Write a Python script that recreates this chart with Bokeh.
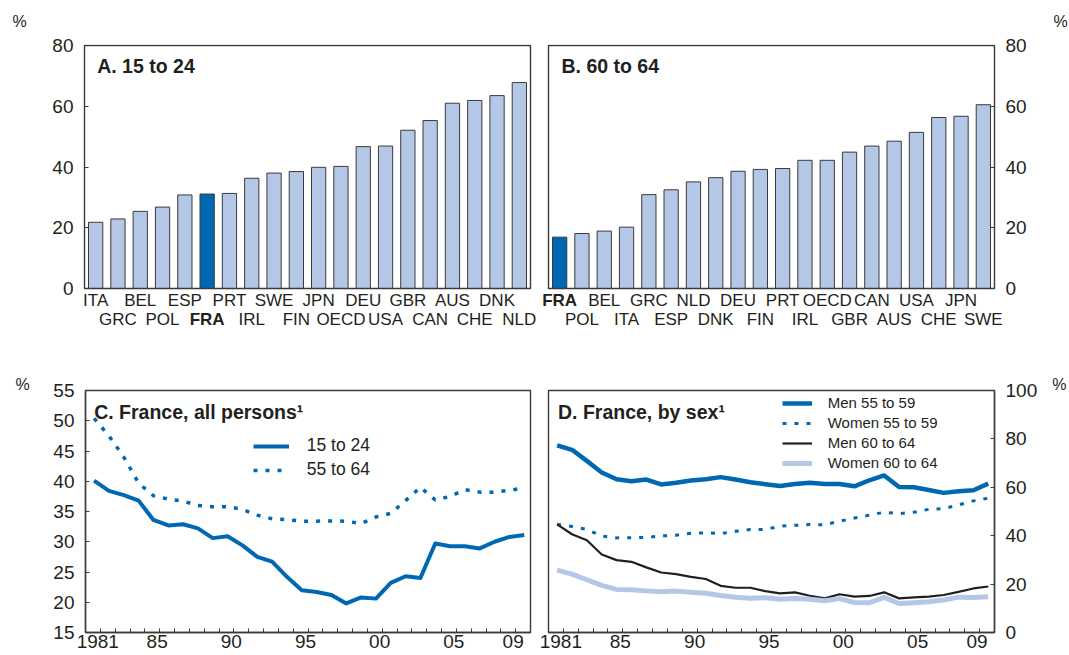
from bokeh.plotting import figure
from bokeh.models import (FactorRange, Range1d, ColumnDataSource, LabelSet, Label, Title,
                          FixedTicker, Legend, LegendItem, CustomJSTickFormatter,
                          BoxAnnotation, LinearAxis)
from bokeh.layouts import column, row
from bokeh.core.properties import value
from bokeh.embed import file_html
from bokeh.resources import INLINE

# ---------------- data ----------------
a_countries = ["ITA", "GRC", "BEL", "POL", "ESP", "FRA", "PRT", "IRL", "SWE", "FIN",
               "JPN", "OECD", "DEU", "USA", "GBR", "CAN", "AUS", "CHE", "DNK", "NLD"]
a_values = [21.8, 22.9, 25.4, 26.8, 30.8, 31.1, 31.3, 36.3, 38.0, 38.5,
            39.9, 40.2, 46.7, 46.9, 52.1, 55.3, 61.0, 61.9, 63.5, 67.8]

b_countries = ["FRA", "POL", "BEL", "ITA", "GRC", "ESP", "NLD", "DNK", "DEU", "FIN",
               "PRT", "IRL", "OECD", "GBR", "CAN", "AUS", "USA", "CHE", "JPN", "SWE"]
b_values = [16.9, 18.1, 18.9, 20.2, 30.9, 32.5, 35.1, 36.5, 38.6, 39.2,
            39.5, 42.2, 42.2, 44.9, 46.9, 48.5, 51.4, 56.3, 56.7, 60.5]

years = list(range(1981, 2011))
c_15_24 = [40.1, 38.4, 37.7, 36.8, 33.6, 32.7, 32.9, 32.2, 30.6, 30.9,
           29.4, 27.5, 26.7, 24.2, 22.0, 21.7, 21.2, 19.8, 20.8, 20.6,
           23.2, 24.3, 24.0, 29.7, 29.25, 29.25, 28.9, 30.0, 30.8, 31.1]
c_55_64 = [50.4, 47.5, 44.0, 39.7, 37.6, 37.05, 36.7, 36.0, 35.8, 35.8,
           35.35, 34.4, 33.8, 33.65, 33.4, 33.4, 33.45, 33.4, 33.0, 34.1,
           34.7, 36.8, 39.0, 36.9, 37.5, 38.6, 38.2, 38.2, 38.5, 38.9]

d_men_55_59 = [77.3, 75.5, 70.9, 66.1, 63.3, 62.5, 63.2, 61.2, 61.9, 62.8,
               63.3, 64.2, 63.2, 62.1, 61.3, 60.5, 61.4, 61.9, 61.4, 61.4,
               60.4, 62.9, 64.9, 60.1, 60.0, 58.9, 57.7, 58.4, 58.8, 61.5]
d_women_55_59 = [44.7, 43.8, 42.6, 39.9, 39.1, 39.2, 39.3, 39.9, 40.2, 41.0,
                 41.2, 40.9, 41.8, 42.6, 42.6, 43.9, 44.3, 44.6, 44.5, 46.0,
                 47.3, 48.5, 49.7, 49.1, 49.7, 50.9, 51.2, 52.7, 54.4, 55.5]
d_men_60_64 = [44.7, 40.6, 38.1, 32.2, 29.9, 29.2, 26.9, 24.8, 24.1, 23.0,
               22.1, 19.3, 18.5, 18.5, 17.1, 16.2, 16.6, 15.2, 14.1, 15.8,
               14.8, 15.1, 16.6, 14.1, 14.5, 14.8, 15.5, 16.8, 18.2, 19.0]
d_women_60_64 = [25.8, 24.1, 21.8, 19.5, 17.8, 17.7, 17.2, 16.8, 17.1, 16.6,
                 16.2, 15.3, 14.6, 14.2, 14.4, 13.7, 14.0, 13.7, 13.1, 14.0,
                 12.4, 12.3, 14.5, 12.0, 12.3, 12.7, 13.4, 14.6, 14.5, 14.8]

year_tick_years = [1981, 1985, 1990, 1995, 2000, 2005, 2009]
year_tick_labels = ["1981", "85", "90", "95", "00", "05", "09"]

bar_ticks = [0, 20, 40, 60, 80]
c_ticks = [15, 20, 25, 30, 35, 40, 45, 50, 55]
d_ticks = [0, 20, 40, 60, 80, 100]

# ---------------- style ----------------
FONT = "Liberation Sans"
TEXT = "#231f20"
LIGHT = "#b4c7e7"
BLUE = "#0068b3"
BLACK = "#231f20"
EDGE = "#3a3a3a"
TICK_SHIFT = 0.42      # year tick marks sit this far right of the data points
LABEL_SHIFT = 0.25     # year labels sit slightly left of the tick marks
X0, X1 = 1981 - (1 - TICK_SHIFT), 2010 + TICK_SHIFT

W_LEFT, W_RIGHT = 539, 529          # column widths (page px)
H_TOP, H_BARS, H_LINES = 35, 333, 286
CAT_ROWS = (305.5, 324.5)           # baselines of the two rows of country codes (page px)

# box geometry on the page: (left, right, top, bottom, xstart, xend, ystart, yend)
PA = (84, 530, 45, 288, 0, 20, 0, 80)
PB = (548, 994, 45, 288, 0, 20, 0, 80)
PC = (85, 530, 390, 632, X0, X1, 15, 55)
PD = (548, 994, 390, 632, X0, X1, 0, 100)
BAR_PX = 446 / 20                    # pixels per category slot
BAR_YPX = 243 / 80                   # pixels per percentage point
SIDE = 9                             # free pixels left and right of the bar boxes
FRAME_BOTTOM = 366                   # bar frames reach down over the country codes


def conv(P, px, py):
    fx0, fx1, fy0, fy1, xs, xe, ys, ye = P
    return (xs + (px - fx0) * (xe - xs) / (fx1 - fx0),
            ys + (fy1 - py) * (ye - ys) / (fy1 - fy0))


def make_fig(w, h, mbl, mbr, mbt, mbb, x_range, y_range, yloc, xloc):
    p = figure(width=w, height=h, x_range=x_range, y_range=y_range, title=None,
               output_backend="svg", toolbar_location=None,
               y_axis_location=yloc, x_axis_location=xloc,
               min_border_left=mbl, min_border_right=mbr,
               min_border_top=mbt, min_border_bottom=mbb,
               background_fill_color="white", border_fill_color="white")
    p.outline_line_color = EDGE
    p.outline_line_width = 1.4
    p.outline_line_alpha = 1.0
    p.grid.visible = False
    return p


def style_axis(ax, ticker):
    ax.ticker = ticker
    ax.major_tick_in = 4
    ax.major_tick_out = 0
    ax.minor_tick_in = 4
    ax.minor_tick_out = 0
    ax.minor_tick_line_color = None
    ax.major_tick_line_color = EDGE
    ax.major_tick_line_width = 1
    ax.axis_line_color = EDGE
    ax.axis_line_width = 1.4
    ax.major_label_text_font = FONT
    ax.major_label_text_font_size = "19px"
    ax.major_label_text_color = TEXT
    ax.major_label_standoff = 11


def add_text(p, P, px, py, text, size, bold=False, align="left", baseline="alphabetic"):
    x, y = conv(P, px, py)
    p.add_layout(Label(x=x, y=y, text=text, text_font=FONT, text_font_size=size,
                       text_font_style="bold" if bold else "normal", text_color=TEXT,
                       text_align=align, text_baseline=baseline))


def bar_panel(cats, vals, title, yloc, w, mbl, mbr, P, title_px):
    top_border = 45 - H_TOP - 1
    p = make_fig(w, H_BARS, mbl, mbr, top_border, H_TOP + H_BARS - FRAME_BOTTOM,
                 FactorRange(factors=cats, range_padding=SIDE / BAR_PX,
                             range_padding_units="absolute"),
                 Range1d(-(FRAME_BOTTOM - 288) / BAR_YPX, 80 + 1 / BAR_YPX), yloc, None)
    p.outline_line_color = None
    colors = [BLUE if c == "FRA" else LIGHT for c in cats]
    src = ColumnDataSource(dict(cat=cats, val=vals, color=colors))
    p.vbar(x="cat", top="val", width=0.64, fill_color="color", line_color=EDGE,
           line_width=1, source=src)
    p.add_layout(BoxAnnotation(left=0, right=len(cats), bottom=0, top=80,
                               fill_color=None, fill_alpha=0, line_color=EDGE,
                               line_width=1.4, line_alpha=1.0))
    # value labels sit at the frame edge, just outside the box
    style_axis(p.yaxis, FixedTicker(ticks=bar_ticks))
    p.yaxis.axis_line_color = None
    p.yaxis.major_tick_line_color = None
    p.yaxis.major_label_standoff = 2
    # tick marks on the box edge itself
    p.add_layout(LinearAxis(fixed_location=0 if yloc == "left" else len(cats),
                            ticker=FixedTicker(ticks=bar_ticks),
                            major_tick_in=4, major_tick_out=0, major_tick_line_color=EDGE,
                            minor_tick_line_color=None, axis_line_color=None,
                            major_label_text_color=None), yloc)
    # country codes in two rows below the box
    y_rows = [conv(P, 0, r)[1] for r in CAT_ROWS]
    lsrc = ColumnDataSource(dict(
        x=[i + 0.5 for i in range(len(cats))],
        y=[y_rows[i % 2] for i in range(len(cats))],
        text=cats,
        style=["bold" if c == "FRA" else "normal" for c in cats]))
    p.add_layout(LabelSet(x="x", y="y", text="text", source=lsrc,
                          text_font=value(FONT), text_font_size=value("17px"),
                          text_font_style="style", text_color=TEXT,
                          text_align="center", text_baseline="alphabetic"))
    add_text(p, P, title_px[0], title_px[1], title, "19.5px", bold=True)
    return p


def line_panel(yr, ticks, yloc, w, mbl, mbr, P, title, title_px, pct_align, pct_off):
    p = make_fig(w, H_LINES, mbl, mbr, 22, H_LINES - 22 - 242,
                 Range1d(X0, X1), Range1d(*yr), yloc, "below")
    style_axis(p.yaxis, FixedTicker(ticks=ticks))
    xt = FixedTicker(ticks=[y + LABEL_SHIFT for y in year_tick_years],
                     minor_ticks=[y + TICK_SHIFT for y in years[:-1]])
    style_axis(p.xaxis, xt)
    p.xaxis.major_tick_line_color = None
    p.xaxis.minor_tick_line_color = EDGE
    p.xaxis.minor_tick_line_width = 1
    p.xaxis.major_label_standoff = 2
    p.xaxis.formatter = CustomJSTickFormatter(args=dict(labels=year_tick_labels),
                                              code="return labels[index];")
    add_text(p, P, title_px[0], title_px[1], title, "19.5px", bold=True)
    p.add_layout(Title(text="%", align=pct_align, offset=pct_off, standoff=-4,
                       text_font=FONT, text_font_size="16px", text_font_style="normal",
                       text_color=TEXT, vertical_align="bottom"), "above")
    return p


# top strip carrying the "%" unit signs of panels A and B
ptop = make_fig(W_LEFT + W_RIGHT, H_TOP, 0, 0, 0, 0, Range1d(0, W_LEFT + W_RIGHT),
                Range1d(H_TOP, 0), None, None)
ptop.outline_line_color = None
for px in (19, 1060):
    ptop.add_layout(Label(x=px, y=21, text="%", text_font=FONT, text_font_size="16px",
                          text_color=TEXT, text_align="center", text_baseline="middle"))

pa = bar_panel(a_countries, a_values, "A. 15 to 24", "left", W_LEFT,
               84 - SIDE, W_LEFT - (84 - SIDE) - (446 + 2 * SIDE), PA, (96.7, 65))
pb = bar_panel(b_countries, b_values, "B. 60 to 64", "right", W_RIGHT,
               548 - SIDE - W_LEFT, W_RIGHT - (548 - SIDE - W_LEFT) - (446 + 2 * SIDE),
               PB, (561, 65))

pc = line_panel((15, 55), c_ticks, "left", W_LEFT, 85, 9, PC, "C. France, all persons\u00b9",
                (93.7, 411.7), "left", -70)
r1 = pc.line(years, c_15_24, line_color=BLUE, line_width=4, line_join="round")
r2 = pc.line(years, c_55_64, line_color=BLUE, line_width=3.5, line_dash="4 8")
leg_c = Legend(items=[LegendItem(label="15 to 24", renderers=[r1]),
                      LegendItem(label="55 to 64", renderers=[r2])],
               location=(167.7, 152), glyph_width=36, glyph_height=20, label_height=20,
               label_standoff=18, spacing=3, padding=0, margin=0,
               border_line_color=None, background_fill_alpha=0,
               label_text_font=FONT, label_text_font_size="17.5px", label_text_color=TEXT)
pc.add_layout(leg_c)

pd = line_panel((0, 100), d_ticks, "right", W_RIGHT, 9, W_RIGHT - 9 - 446, PD,
                "D. France, by sex\u00b9", (557.5, 411.7), "right", -72)
s1 = pd.line(years, d_men_55_59, line_color=BLUE, line_width=4.5, line_join="round")
s2 = pd.line(years, d_women_55_59, line_color=BLUE, line_width=3, line_dash="4 8")
s3 = pd.line(years, d_men_60_64, line_color=BLACK, line_width=2.2, line_join="round")
s4 = pd.line(years, d_women_60_64, line_color=LIGHT, line_width=5, line_join="round")
leg_d = Legend(items=[LegendItem(label="Men 55 to 59", renderers=[s1]),
                      LegendItem(label="Women 55 to 59", renderers=[s2]),
                      LegendItem(label="Men 60 to 64", renderers=[s3]),
                      LegendItem(label="Women 60 to 64", renderers=[s4])],
               location=(233.7, 159.3), glyph_width=30, glyph_height=20, label_height=20,
               label_standoff=16, spacing=0, padding=0, margin=0,
               border_line_color=None, background_fill_alpha=0,
               label_text_font=FONT, label_text_font_size="15px", label_text_color=TEXT)
pd.add_layout(leg_d)

layout = column(ptop, row(pa, pb), row(pc, pd))
open("out.html", "w").write(file_html(layout, INLINE))
